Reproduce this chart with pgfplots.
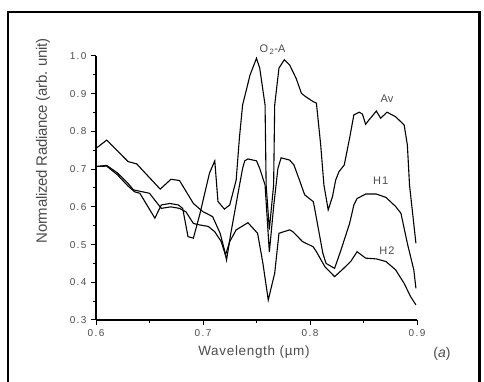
\documentclass[border=0pt]{standalone}
\usepackage{fontspec}
\setmainfont{Liberation Sans}
\usepackage{pgfplots}
\pgfplotsset{compat=1.18}
\definecolor{txt}{rgb}{0.3,0.3,0.3}
\begin{document}
\begin{tikzpicture}[x=1pt,y=1pt]
\useasboundingbox (0,0) rectangle (484,382);
\draw[line width=2.2pt] (8,-10) -- (8,370) -- (479.5,370) -- (479.5,-10);
\begin{axis}[
  at={(96pt,62pt)}, anchor=south west,
  scale only axis, width=321pt, height=264pt,
  xmin=0.6, xmax=0.9, ymin=0.3, ymax=1.0,
  axis lines*=left, clip=false,
  axis line style={line width=1.2pt},
  xtick={0.6,0.7,0.8,0.9},
  ytick={0.3,0.4,0.5,0.6,0.7,0.8,0.9,1.0},
  minor tick num=1,
  tick align=outside,
  major tick length=5pt, minor tick length=3pt,
  every tick/.style={black, line width=1pt},
  /pgf/number format/assume math mode=true,
  /pgf/number format/fixed,
  /pgf/number format/fixed zerofill,
  /pgf/number format/precision=1,
  tick label style={font=\fontsize{10}{10}\selectfont\addfontfeatures{LetterSpace=14}, text=txt},
  xticklabel style={yshift=-1pt},
  yticklabel style={xshift=-1pt},
]
% Av (spike curve)
\addplot[black, line width=1.1pt] coordinates {
(0.600,0.707)(0.610,0.708)(0.620,0.685)(0.630,0.655)(0.636,0.640)(0.641,0.636)
(0.655,0.570)(0.661,0.605)(0.669,0.609)(0.677,0.605)(0.681,0.596)(0.686,0.521)
(0.691,0.517)(0.697,0.580)(0.706,0.689)(0.711,0.722)(0.714,0.614)(0.720,0.594)
(0.725,0.605)(0.731,0.671)(0.734,0.782)(0.737,0.870)(0.744,0.950)(0.750,0.994)
(0.753,0.968)(0.758,0.870)(0.759,0.658)(0.762,0.540)(0.766,0.658)(0.767,0.870)
(0.771,0.968)(0.776,0.990)(0.781,0.976)(0.787,0.941)(0.792,0.901)(0.796,0.892)
(0.803,0.879)(0.806,0.875)(0.810,0.764)(0.813,0.658)(0.817,0.592)(0.821,0.627)
(0.824,0.671)(0.827,0.693)(0.832,0.711)(0.837,0.782)(0.841,0.844)(0.846,0.851)
(0.849,0.846)(0.852,0.819)(0.855,0.830)(0.862,0.854)(0.866,0.835)(0.872,0.851)
(0.880,0.839)(0.888,0.817)(0.891,0.764)(0.893,0.658)(0.899,0.503)
};
% H1
\addplot[black, line width=1.1pt] coordinates {
(0.600,0.755)(0.610,0.777)(0.630,0.720)(0.638,0.714)(0.660,0.647)(0.670,0.673)
(0.678,0.670)(0.691,0.609)(0.700,0.587)(0.703,0.583)(0.709,0.574)(0.716,0.530)
(0.720,0.486)(0.722,0.459)(0.726,0.530)(0.733,0.640)(0.737,0.702)(0.739,0.722)
(0.742,0.727)(0.750,0.722)(0.753,0.702)(0.758,0.658)(0.762,0.480)(0.766,0.600)
(0.770,0.702)(0.773,0.730)(0.781,0.724)(0.785,0.711)(0.790,0.672)(0.795,0.632)
(0.803,0.614)(0.804,0.601)(0.812,0.477)(0.815,0.450)(0.823,0.437)(0.829,0.486)
(0.837,0.556)(0.841,0.605)(0.844,0.622)(0.852,0.634)(0.862,0.634)(0.871,0.625)
(0.880,0.601)(0.885,0.583)(0.891,0.503)(0.897,0.433)(0.899,0.384)
};
% H2
\addplot[black, line width=1.1pt] coordinates {
(0.600,0.707)(0.610,0.710)(0.620,0.690)(0.630,0.662)(0.635,0.645)(0.650,0.636)
(0.661,0.596)(0.670,0.600)(0.678,0.596)(0.684,0.587)(0.691,0.556)(0.697,0.552)
(0.705,0.548)(0.711,0.534)(0.717,0.508)(0.721,0.472)(0.725,0.508)(0.731,0.539)
(0.742,0.558)(0.751,0.530)(0.756,0.450)(0.761,0.353)(0.767,0.424)(0.771,0.530)
(0.781,0.539)(0.784,0.534)(0.793,0.508)(0.803,0.494)(0.806,0.481)(0.814,0.441)
(0.823,0.415)(0.830,0.433)(0.838,0.455)(0.844,0.481)(0.852,0.464)(0.862,0.462)
(0.871,0.455)(0.880,0.433)(0.888,0.397)(0.894,0.362)(0.899,0.340)
};
\node[text=txt, font=\fontsize{11}{11}\selectfont] at (axis cs:0.765,1.017) {O\textsubscript{\,2}-A};
\node[text=txt, font=\fontsize{11}{11}\selectfont] at (axis cs:0.872,0.886) {Av};
\node[text=txt, font=\fontsize{11}{11}\selectfont\addfontfeatures{LetterSpace=10}] at (axis cs:0.866,0.668) {H1};
\node[text=txt, font=\fontsize{11}{11}\selectfont\addfontfeatures{LetterSpace=10}] at (axis cs:0.872,0.484) {H2};
\end{axis}
\node[text=txt, rotate=90, font=\fontsize{15}{16}\selectfont\addfontfeatures{LetterSpace=-2}] at (43,241) {Normalized Radiance (arb. unit)};
\node[text=txt, font=\fontsize{13.5}{14}\selectfont\addfontfeatures{LetterSpace=5}] at (254,30) {Wavelength (µm)};
\node[text=txt, font=\fontsize{14}{15}\selectfont] at (442,28) {(\textit{a})};
\end{tikzpicture}
\end{document}
